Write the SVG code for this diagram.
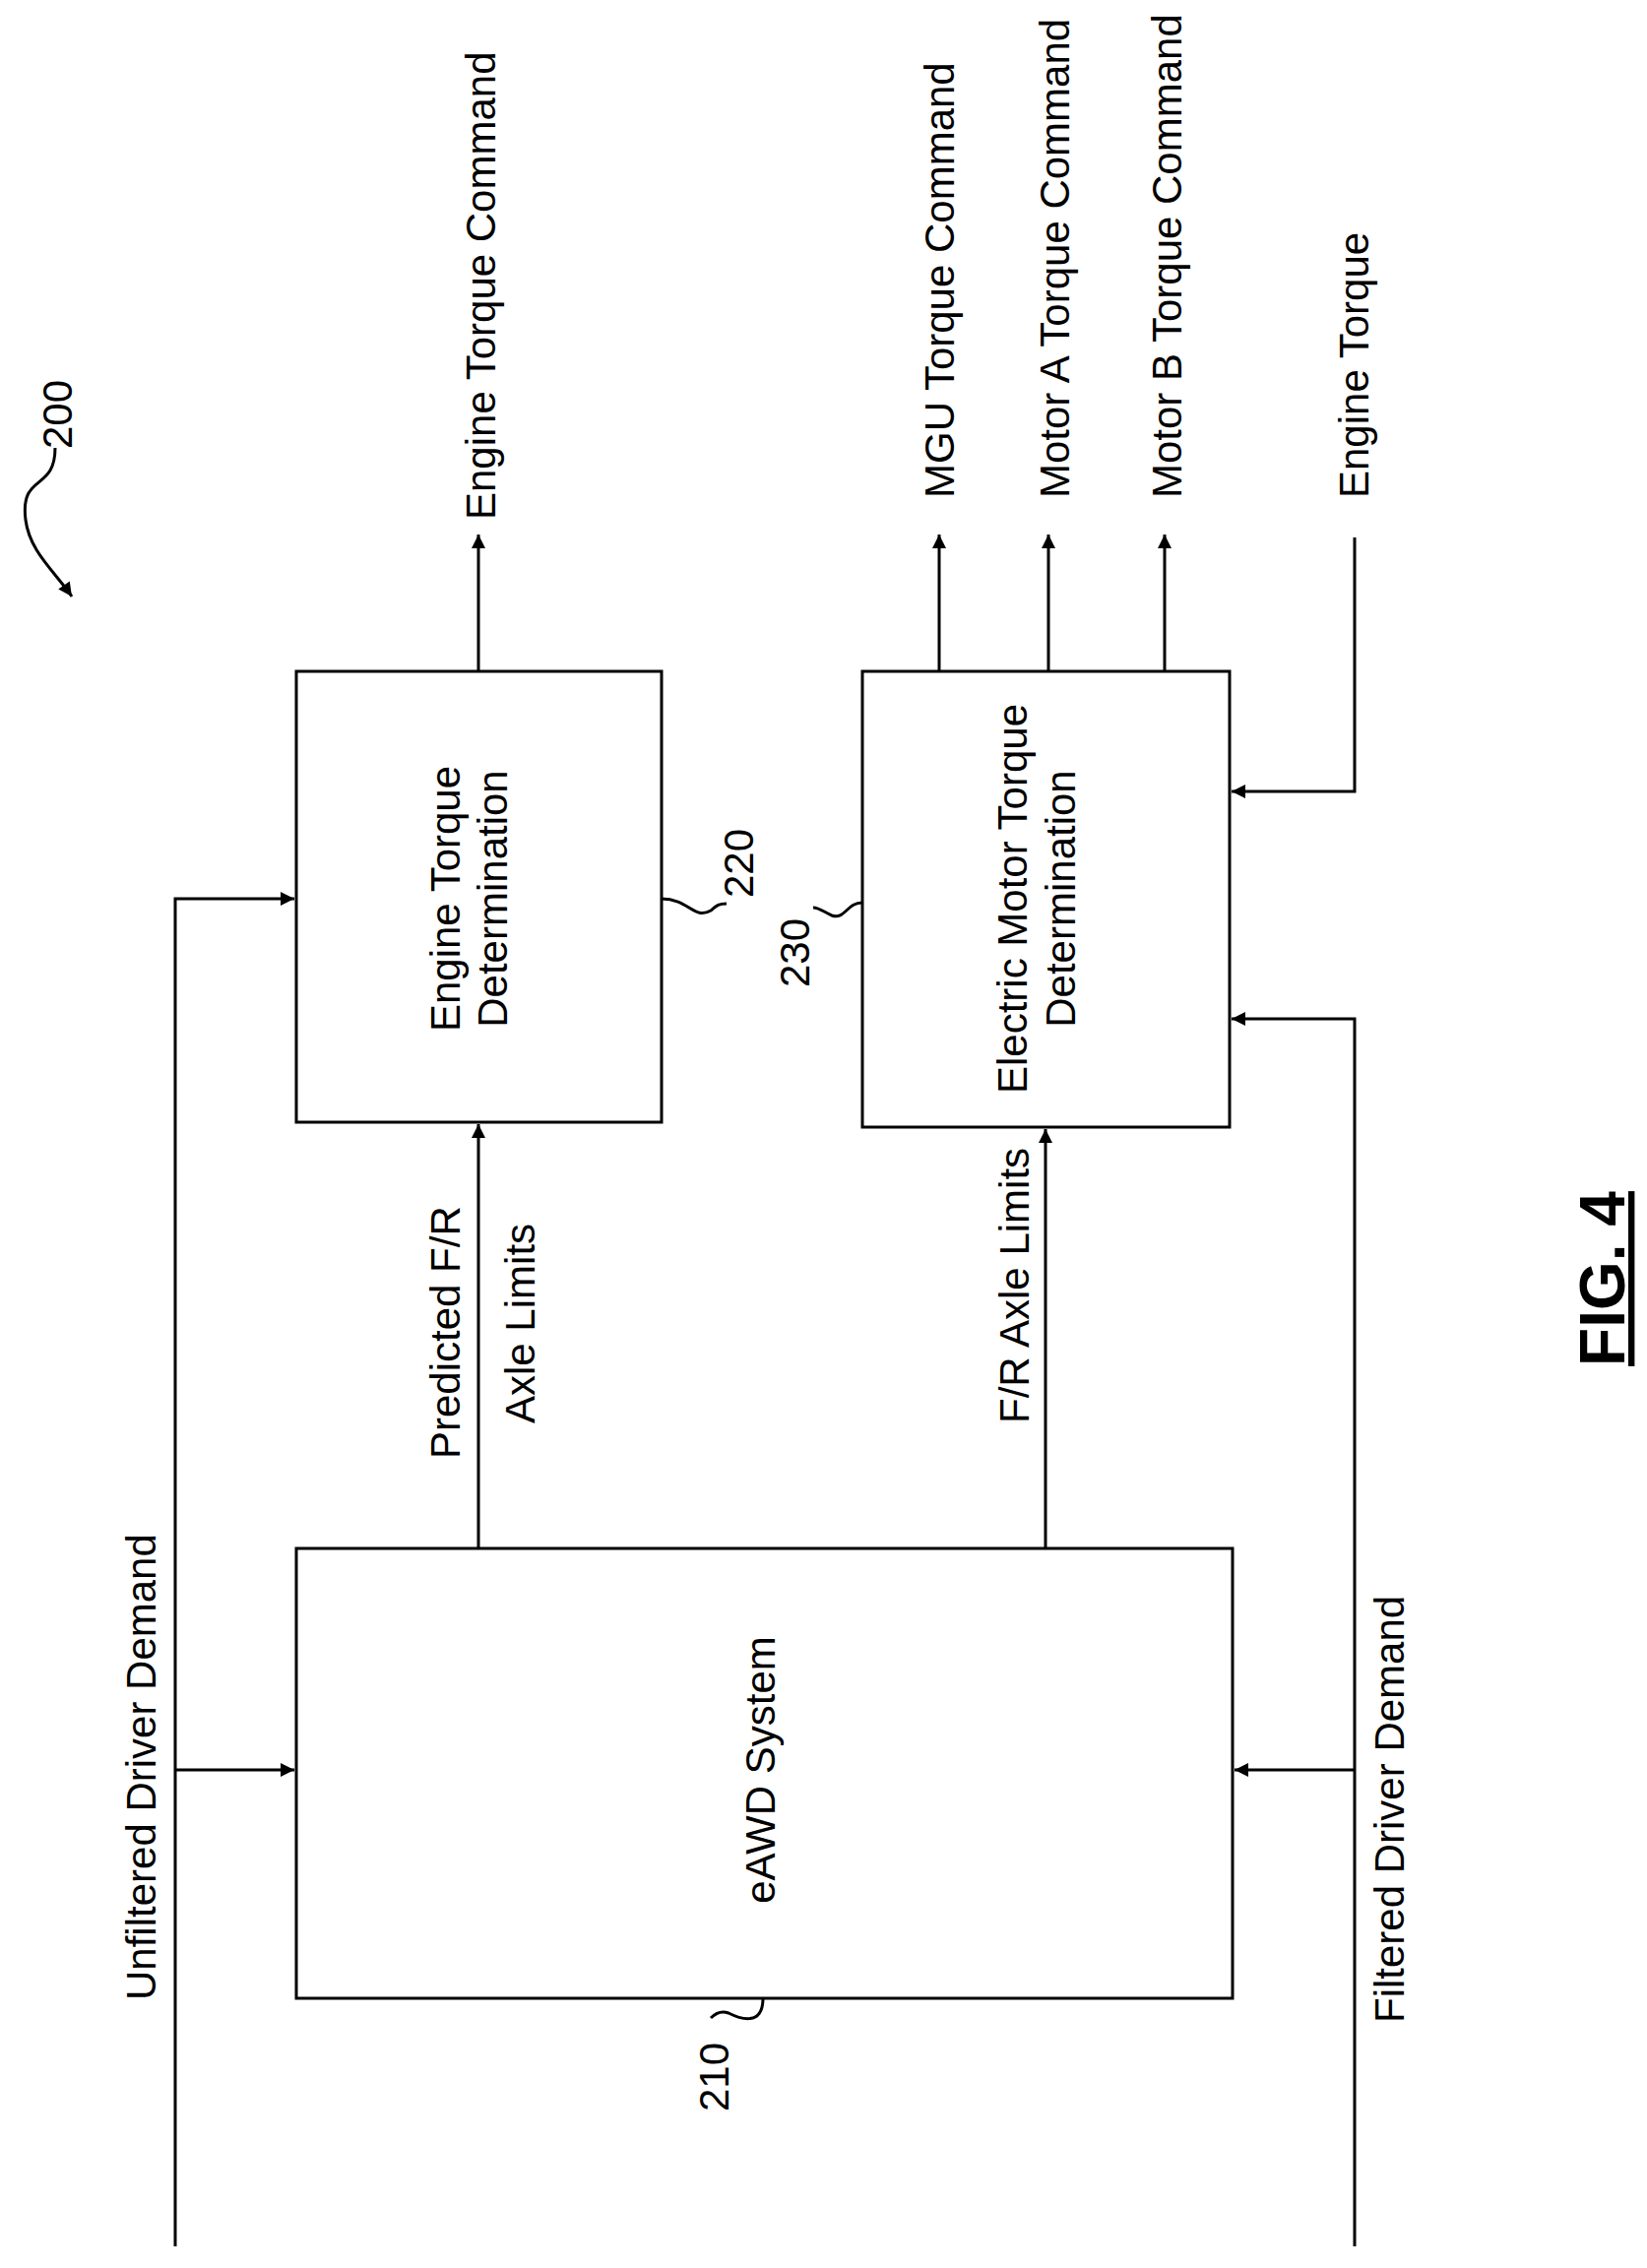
<svg xmlns="http://www.w3.org/2000/svg" width="1673" height="2304" viewBox="0 0 1673 2304">
<style>
.b{fill:none;stroke:#000;stroke-width:3}
.l{fill:none;stroke:#000;stroke-width:3}
.t{font-family:"Liberation Sans",Arial,sans-serif;font-size:42px;fill:#000}
</style>
<defs>
<marker id="m" viewBox="0 0 10 10" refX="10" refY="5" markerWidth="18" markerHeight="14" orient="auto" markerUnits="userSpaceOnUse"><path d="M0,0L10,5L0,10z" fill="#000"/></marker></defs>
<rect width="1673" height="2304" fill="#fff"/>
<g id="n210"><rect class="b" x="301" y="1573" width="951" height="457"/><text class="t" transform="translate(787,1798) rotate(-90)" text-anchor="middle">eAWD System</text></g>
<g id="n220"><rect class="b" x="301" y="682" width="371" height="458"/><text class="t" transform="translate(467,913) rotate(-90)" text-anchor="middle">Engine Torque</text><text class="t" transform="translate(515,913) rotate(-90)" text-anchor="middle">Determination</text></g>
<g id="n230"><rect class="b" x="876" y="682" width="373" height="463"/><text class="t" transform="translate(1043,913) rotate(-90)" text-anchor="middle">Electric Motor Torque</text><text class="t" transform="translate(1092,913) rotate(-90)" text-anchor="middle">Determination</text></g>
<g id="connectors">
<path class="l" d="M178,2282V913H299" marker-end="url(#m)"/>
<path class="l" d="M178,1798H299" marker-end="url(#m)"/>
<path class="l" d="M1376,2282V1035H1251" marker-end="url(#m)"/>
<path class="l" d="M1376,1798H1254" marker-end="url(#m)"/>
<path class="l" d="M1376,546V804H1251" marker-end="url(#m)"/>
<path class="l" d="M486,682V543" marker-end="url(#m)"/>
<path class="l" d="M954,682V543" marker-end="url(#m)"/>
<path class="l" d="M1065,682V543" marker-end="url(#m)"/>
<path class="l" d="M1183,682V543" marker-end="url(#m)"/>
<path class="l" d="M486,1573V1142" marker-end="url(#m)"/>
<path class="l" d="M1062,1573V1147" marker-end="url(#m)"/>
<path class="l" d="M672,913C700,913 705,935 722,925C728,920 730,918 738,918"/>
<path class="l" d="M876,917C860,917 858,935 845,930C838,927 832,922 826,922"/>
<path class="l" d="M775,2030C775,2060 750,2050 740,2045C732,2042 726,2046 722,2050"/>
<path class="l" d="M56,455C56,500 20,480 26,528C30,560 55,580 73,606" marker-end="url(#m)"/>
</g>
<g id="labels">
<text class="t" transform="translate(503,528) rotate(-90)">Engine Torque Command</text>
<text class="t" transform="translate(969,506) rotate(-90)">MGU Torque Command</text>
<text class="t" transform="translate(1086,506) rotate(-90)">Motor A Torque Command</text>
<text class="t" transform="translate(1200,506) rotate(-90)">Motor B Torque Command</text>
<text class="t" transform="translate(1390,506) rotate(-90)">Engine Torque</text>
<text class="t" transform="translate(158,2032) rotate(-90)">Unfiltered Driver Demand</text>
<text class="t" transform="translate(1426,2055) rotate(-90)">Filtered Driver Demand</text>
<text class="t" transform="translate(467,1482) rotate(-90)">Predicted F/R</text>
<text class="t" transform="translate(543,1446) rotate(-90)">Axle Limits</text>
<text class="t" transform="translate(1045,1446) rotate(-90)">F/R Axle Limits</text>
<text class="t" transform="translate(765,877) rotate(-90)" text-anchor="middle">220</text>
<text class="t" transform="translate(822,968) rotate(-90)" text-anchor="middle">230</text>
<text class="t" transform="translate(740,2110) rotate(-90)" text-anchor="middle">210</text>
<text class="t" transform="translate(73,421) rotate(-90)" text-anchor="middle">200</text>
<text transform="translate(1650,1299) rotate(-90)" text-anchor="middle" font-family="Liberation Sans,Arial,sans-serif" font-weight="bold" font-size="64" text-decoration="underline">FIG. 4</text>
</g>
</svg>
